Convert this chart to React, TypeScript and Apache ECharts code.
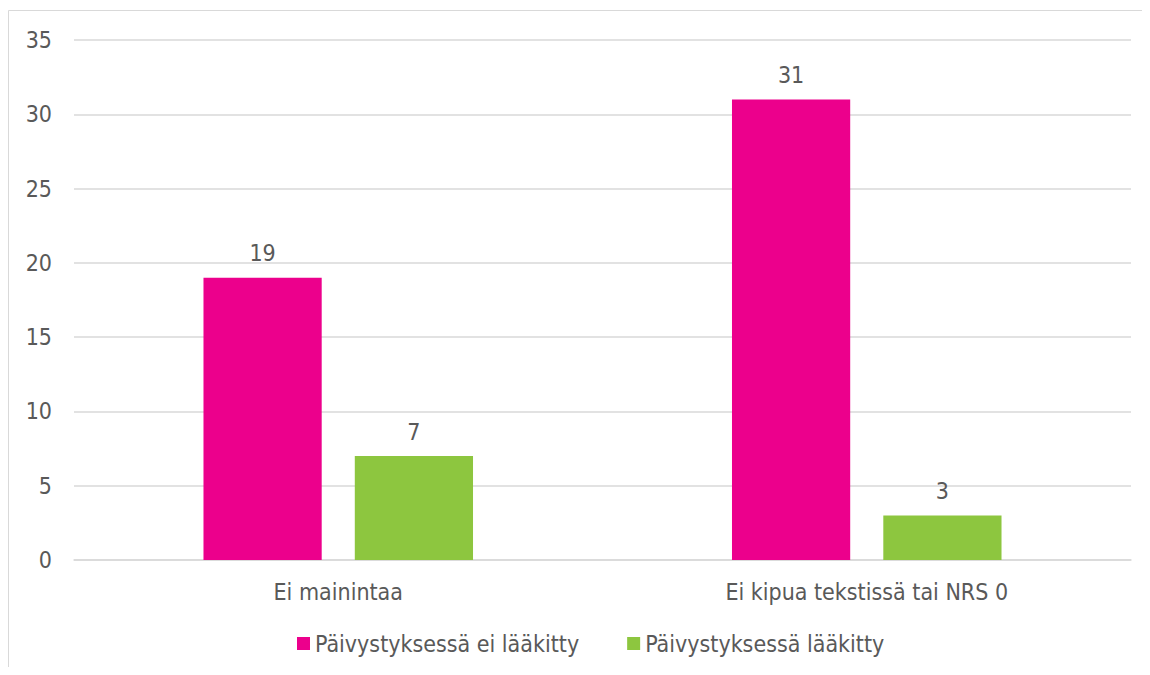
import React, { useEffect, useRef } from "react";
import * as echarts from "echarts";

const categories = ["Ei mainintaa", "Ei kipua tekstissä tai NRS 0"];
const seriesNames = ["Päivystyksessä ei lääkitty", "Päivystyksessä lääkitty"];
const notMedicated = [19, 31];
const medicated = [7, 3];
const colors = ["#EC008C", "#8DC63F"];

const FONT = "'DejaVu Sans Condensed', 'Liberation Sans', sans-serif";
const TEXT_COLOR = "#595959";
const FS = 23;

export default function App() {
  const ref = useRef<HTMLDivElement>(null);
  useEffect(() => {
    if (!ref.current) return;
    const chart = echarts.init(ref.current, null, { renderer: "svg" });
    const label = {
      show: true,
      position: "top",
      distance: 13,
      color: TEXT_COLOR,
      fontSize: FS,
      fontFamily: FONT,
    };
    chart.setOption({
      animation: false,
      textStyle: { fontFamily: FONT },
      graphic: [
        {
          type: "rect",
          shape: { x: 0.5, y: 2.5, width: 3000, height: 3000 },
          style: { fill: "none", stroke: "#d9d9d9", lineWidth: 1 },
          silent: true,
        },
      ],
      grid: { left: 66, right: 11, top: 32, bottom: 107, containLabel: false },
      legend: {
        left: 289,
        top: 624,
        padding: 0,
        itemWidth: 13,
        itemHeight: 13,
        itemGap: 48,
        icon: "rect",
        textStyle: { color: TEXT_COLOR, fontSize: FS, fontFamily: FONT },
        data: seriesNames,
      },
      xAxis: {
        type: "category",
        data: categories,
        axisLine: { show: true, lineStyle: { color: "#d9d9d9", width: 1.5 } },
        axisTick: { show: false },
        axisLabel: { color: TEXT_COLOR, fontSize: FS, fontFamily: FONT, margin: 20 },
      },
      yAxis: {
        type: "value",
        min: 0,
        max: 35,
        interval: 5,
        axisLine: { show: false },
        axisTick: { show: false },
        splitLine: { lineStyle: { color: "#d9d9d9", width: 1.5 } },
        axisLabel: { color: TEXT_COLOR, fontSize: FS, fontFamily: FONT, margin: 22 },
      },
      series: [
        {
          name: seriesNames[0],
          type: "bar",
          data: notMedicated,
          itemStyle: { color: colors[0] },
          barCategoryGap: "49%",
          barGap: "28%",
          label,
        },
        {
          name: seriesNames[1],
          type: "bar",
          data: medicated,
          itemStyle: { color: colors[1] },
          barCategoryGap: "49%",
          barGap: "28%",
          label,
        },
      ],
    });
    return () => chart.dispose();
  }, []);
  return <div ref={ref} style={{ width: 1134, height: 659, overflow: "hidden" }} />;
}
